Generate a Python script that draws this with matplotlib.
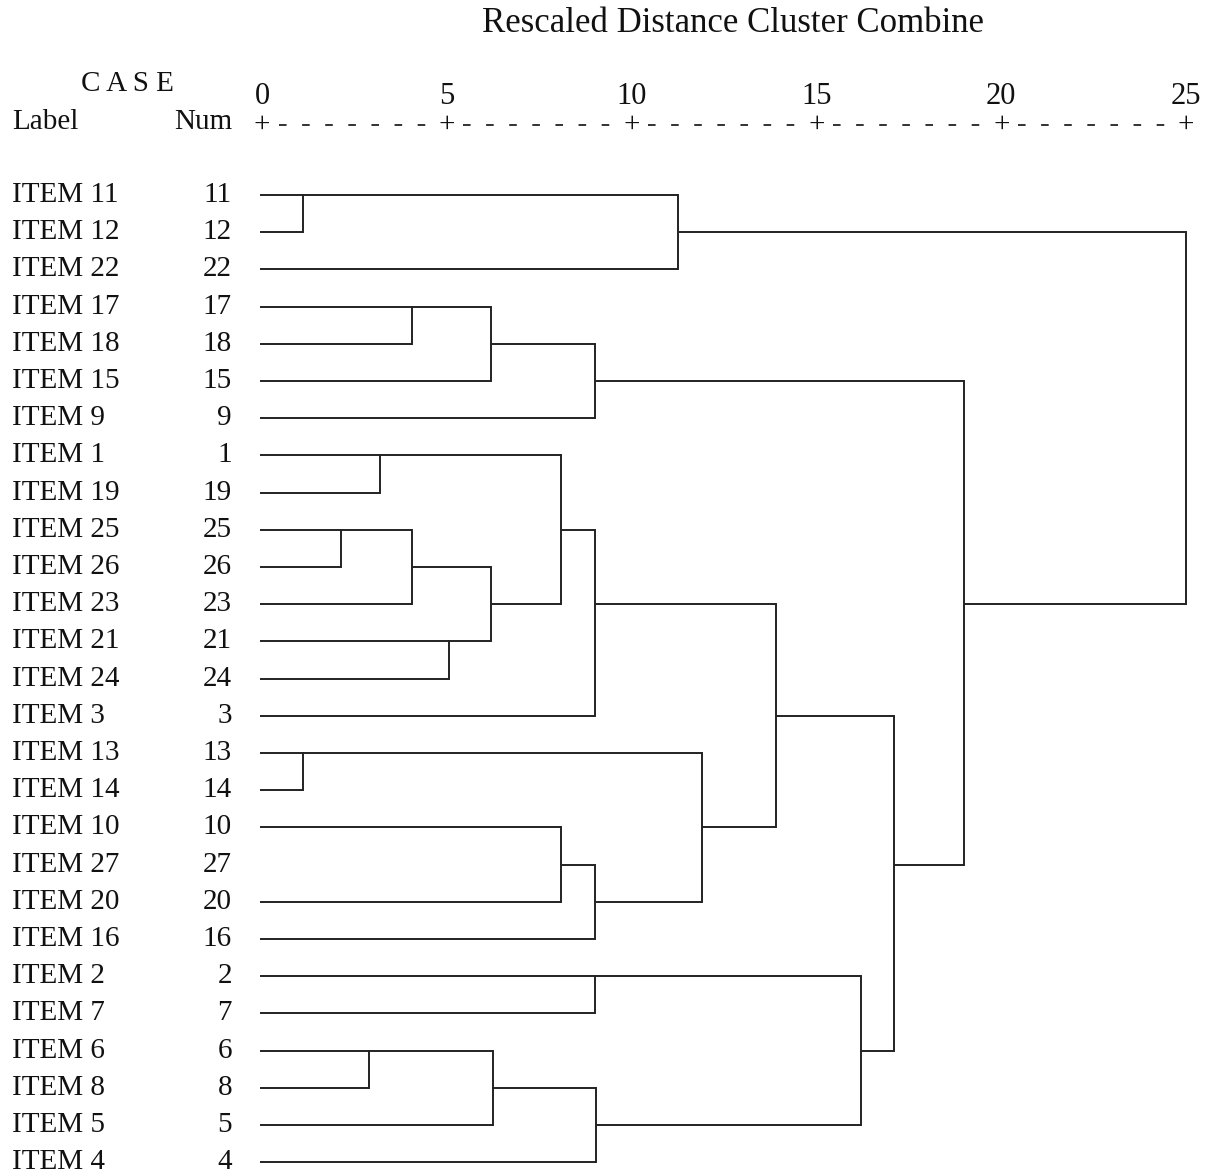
import matplotlib.pyplot as plt

# case order down the page (item numbers)
order = [11, 12, 22, 17, 18, 15, 9, 1, 19, 25, 26, 23, 21, 24, 3,
         13, 14, 10, 27, 20, 16, 2, 7, 6, 8, 5, 4]
labels = ["ITEM %d" % n for n in order]

# agglomeration steps: (child a, child b, rescaled distance)
# ints are items, "cK" is the cluster made at step K
merges = [
    (11, 12, 1.1),
    ("c0", 22, 11.25),
    (17, 18, 4.05),
    ("c2", 15, 6.2),
    ("c3", 9, 9.0),
    (1, 19, 3.2),
    (25, 26, 2.15),
    ("c6", 23, 4.05),
    (21, 24, 5.05),
    ("c7", "c8", 6.2),
    ("c5", "c9", 8.1),
    ("c10", 3, 9.0),
    (13, 14, 1.1),
    (10, 20, 8.1),       # item 27 has no line in the source print
    ("c13", 16, 9.0),
    ("c12", "c14", 11.9),
    ("c11", "c15", 13.9),
    (2, 7, 9.0),
    (6, 8, 2.9),
    ("c18", 5, 6.25),
    ("c19", 4, 9.05),
    ("c17", "c20", 16.2),
    ("c16", "c21", 17.1),
    ("c4", "c22", 19.0),
    ("c1", "c23", 25.0),
]

ticks = [0, 5, 10, 15, 20, 25]

plt.rcParams['font.family'] = ['Liberation Serif', 'DejaVu Serif']

fig = plt.figure(figsize=(12.11, 11.75), dpi=100)
ax = fig.add_axes([0, 0, 1, 1])
ax.set_xlim(-262 / 36.96, (1211 - 262) / 36.96)
ax.set_ylim((1175 - 195) / 37.2, -195 / 37.2)
ax.axis("off")

lc = "#222222"
tc = "#111111"
lw = 1.4

# row and height of every node
pos = {n: (i, 0.0) for i, n in enumerate(order)}
for k, (a, b, d) in enumerate(merges):
    ra, da = pos[a]
    rb, db = pos[b]
    ax.plot([da - 0.05 * (da == 0), d], [ra, ra], color=lc, lw=lw, solid_capstyle="butt")
    ax.plot([db - 0.05 * (db == 0), d], [rb, rb], color=lc, lw=lw, solid_capstyle="butt")
    ax.plot([d, d], [ra, rb], color=lc, lw=lw)
    pos["c%d" % k] = ((ra + rb) // 2, d)

# case labels
fs = 21
for i, (lab, n) in enumerate(zip(labels, order)):
    ax.text(-6.77, i, lab, fontsize=fs, ha="left", va="center", color=tc)
    ax.text(-0.81, i, str(n), fontsize=fs, ha="right", va="center", color=tc)

# header
ax.text(12.75, -4.62, "Rescaled Distance Cluster Combine", fontsize=25,
        ha="center", va="center", color=tc)
ax.text(-3.63, -2.98, "C A S E", fontsize=fs, ha="center", va="center", color=tc)
ax.text(-6.77, -1.95, "Label", fontsize=fs, ha="left", va="center", color=tc)
ax.text(-0.81, -1.95, "Num", fontsize=fs, ha="right", va="center", color=tc)
for t in ticks:
    ax.text(t, -2.65, str(t), fontsize=22, ha="center", va="center", color=tc)
    ax.text(t, -1.88, "+", fontsize=fs, ha="center", va="center", color=tc)
for t0, t1 in zip(ticks[:-1], ticks[1:]):
    ax.plot([t0 + 0.45, t1 - 0.35], [-1.88, -1.88], color=lc, lw=1.3,
            dashes=[4.2, 8.6])

fig.savefig("out.png", dpi=100, facecolor="white")
